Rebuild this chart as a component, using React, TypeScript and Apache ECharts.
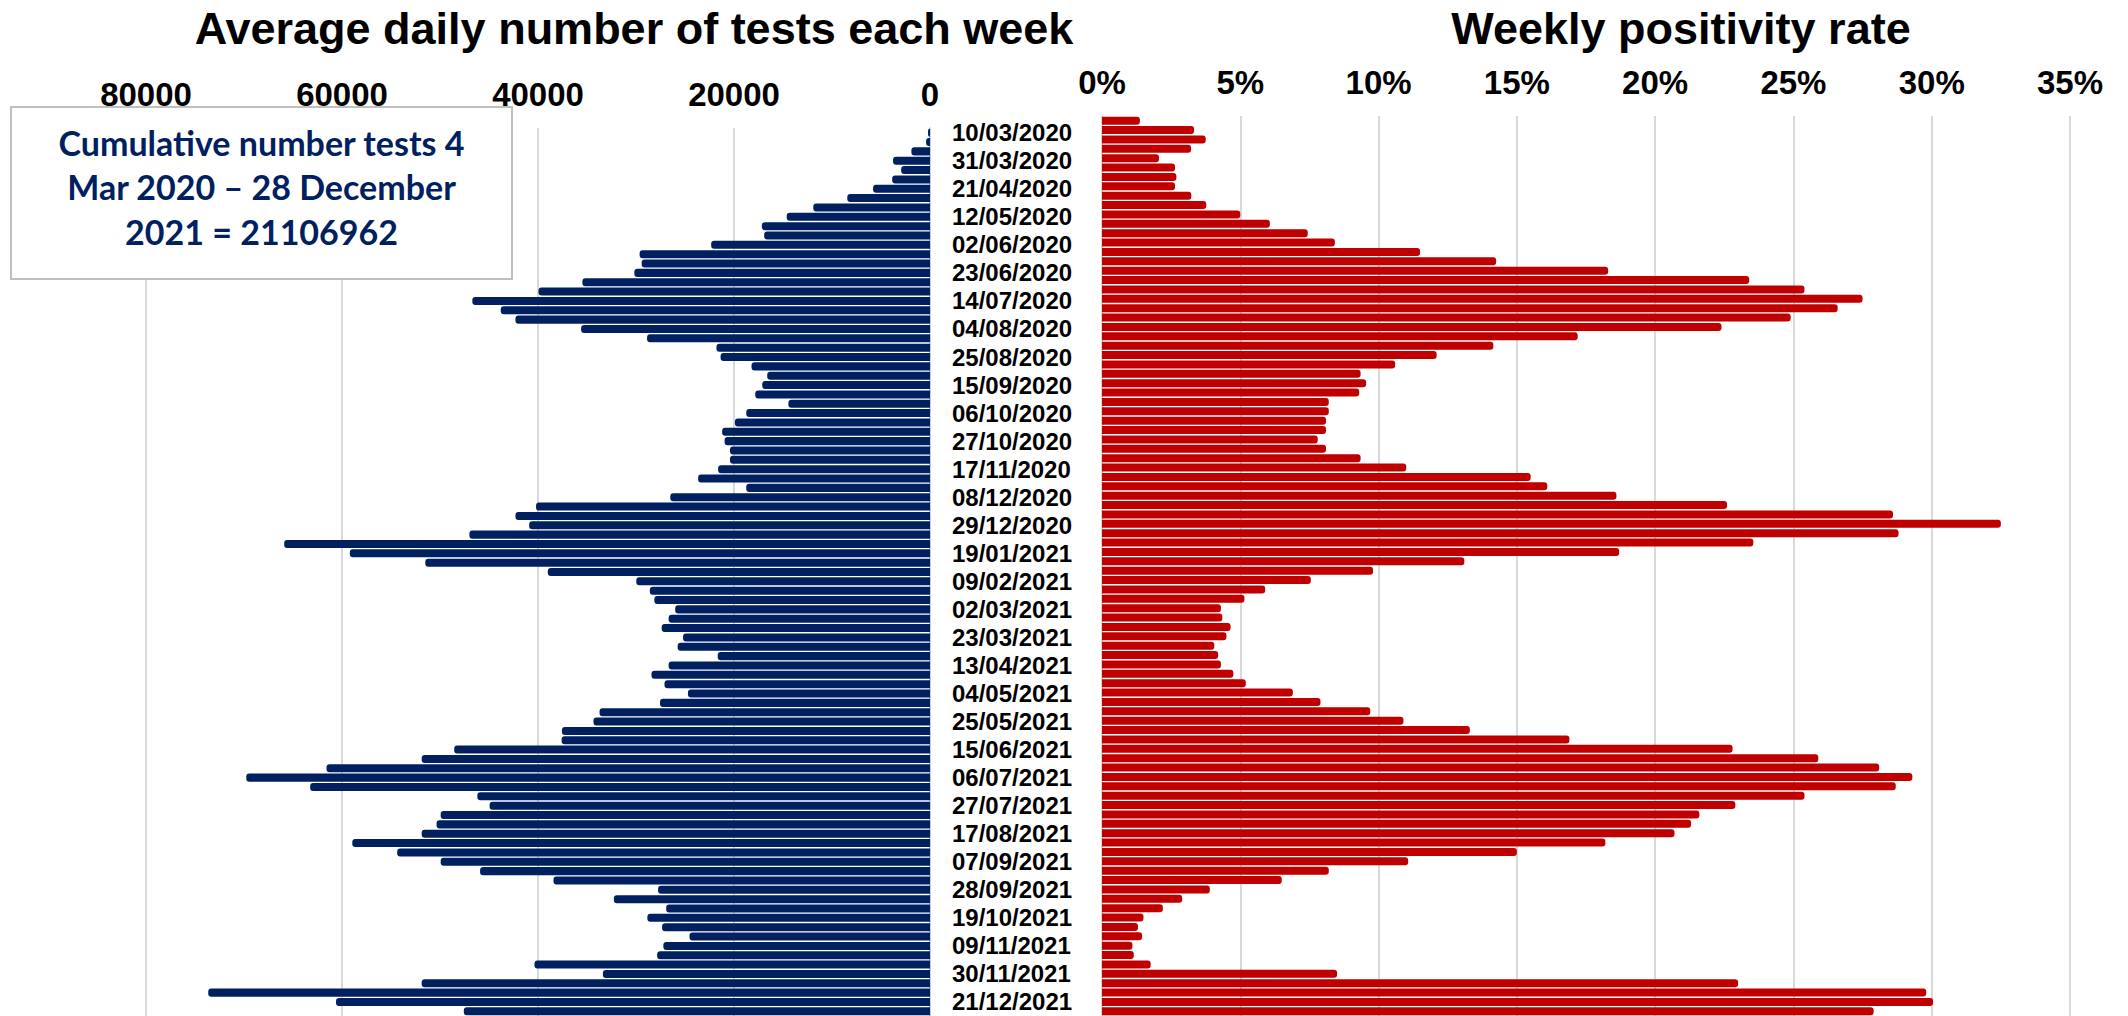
import React, { useEffect, useRef } from "react";
import * as echarts from "echarts";

// Weekly categories (week starting dates)
const weeks = [
  "03/03/2020", "10/03/2020", "17/03/2020", "24/03/2020", "31/03/2020", "07/04/2020", "14/04/2020", "21/04/2020",
  "28/04/2020", "05/05/2020", "12/05/2020", "19/05/2020", "26/05/2020", "02/06/2020", "09/06/2020", "16/06/2020",
  "23/06/2020", "30/06/2020", "07/07/2020", "14/07/2020", "21/07/2020", "28/07/2020", "04/08/2020", "11/08/2020",
  "18/08/2020", "25/08/2020", "01/09/2020", "08/09/2020", "15/09/2020", "22/09/2020", "29/09/2020", "06/10/2020",
  "13/10/2020", "20/10/2020", "27/10/2020", "03/11/2020", "10/11/2020", "17/11/2020", "24/11/2020", "01/12/2020",
  "08/12/2020", "15/12/2020", "22/12/2020", "29/12/2020",
  "05/01/2021", "12/01/2021", "19/01/2021", "26/01/2021", "02/02/2021", "09/02/2021", "16/02/2021", "23/02/2021",
  "02/03/2021", "09/03/2021", "16/03/2021", "23/03/2021", "30/03/2021", "06/04/2021", "13/04/2021", "20/04/2021",
  "27/04/2021", "04/05/2021", "11/05/2021", "18/05/2021", "25/05/2021", "01/06/2021", "08/06/2021", "15/06/2021",
  "22/06/2021", "29/06/2021", "06/07/2021", "13/07/2021", "20/07/2021", "27/07/2021", "03/08/2021", "10/08/2021",
  "17/08/2021", "24/08/2021", "31/08/2021", "07/09/2021", "14/09/2021", "21/09/2021", "28/09/2021", "05/10/2021",
  "12/10/2021", "19/10/2021", "26/10/2021", "02/11/2021", "09/11/2021", "16/11/2021", "23/11/2021", "30/11/2021",
  "07/12/2021", "14/12/2021", "21/12/2021", "28/12/2021",
];

// Tests chart starts one week later (10/03/2020)
const testWeeks = weeks.slice(1);

// Average daily number of tests each week (from 10/03/2020)
const testsPerDay = [
  200, 400, 1900, 3770, 2940, 3860, 5810, 8440, 11910, 14620,
  17160, 16920, 22330, 29630, 29420, 30170, 35470, 39950, 46700, 43800,
  42300, 35600, 28870, 21790, 21370, 18210, 16610, 17120, 17830, 14450,
  18750, 19910, 21210, 20960, 20410, 20410, 21620, 23660, 18750, 26500,
  40200, 42300, 40900, 47000, 65900, 59200, 51500, 39000, 29970, 28590,
  28130, 26000, 26670, 27380, 25200, 25750, 21660, 26670, 28420, 27090,
  24700, 27550, 33720, 34340, 37560, 37590, 48550, 51870, 61580, 69770,
  63250, 46190, 44940, 49930, 50350, 51870, 58950, 54370, 49930, 45910,
  38420, 27750, 32260, 26920, 28840, 27340, 24540, 27210, 27840, 40360,
  33380, 51870, 73650, 60610, 47570,
];

// Weekly positivity rate, % (from 03/03/2020)
const positivityPct = [
  1.37, 3.33, 3.75, 3.22, 2.06, 2.64, 2.69, 2.64, 3.23, 3.77,
  5.0, 6.07, 7.44, 8.42, 11.5, 14.25, 18.3, 23.4, 25.4, 27.5,
  26.6, 24.9, 22.4, 17.2, 14.15, 12.1, 10.6, 9.35, 9.55, 9.3,
  8.2, 8.2, 8.1, 8.1, 7.8, 8.1, 9.35, 11.0, 15.5, 16.1,
  18.6, 22.6, 28.6, 32.5, 28.8, 23.55, 18.7, 13.1, 9.8, 7.55,
  5.9, 5.15, 4.3, 4.35, 4.65, 4.5, 4.06, 4.2, 4.3, 4.75,
  5.2, 6.9, 7.9, 9.7, 10.9, 13.3, 16.9, 22.8, 25.9, 28.1,
  29.3, 28.7, 25.4, 22.9, 21.6, 21.3, 20.7, 18.2, 15.0, 11.07,
  8.2, 6.5, 3.9, 2.9, 2.2, 1.5, 1.3, 1.45, 1.1, 1.15,
  1.76, 8.5, 23.0, 29.8, 30.05, 27.9,
];

// Axis ticks
const testTickMax = 80000;
const testTickStep = 20000;
const pctTickMax = 35;
const pctTickStep = 5;

const titleLeft = "Average daily number of tests each week";
const titleRight = "Weekly positivity rate";
const noteLines = ["Cumulative number tests 4", "Mar 2020 \u2013 28 December", "2021 = 21106962"];

const BLUE = "#002060";
const RED = "#C00000";
const GRID = "#d9d9d9";
const FONT = '"Liberation Sans", Arial, sans-serif';

export default function App() {
  const ref = useRef<HTMLDivElement>(null);

  useEffect(() => {
    document.body.style.margin = "0";
    const chart = echarts.init(ref.current as HTMLDivElement, null, { renderer: "svg" });
    const axisLabelStyle = {
      fontSize: 33,
      fontWeight: "bold" as const,
      color: "#000",
      fontFamily: FONT,
      margin: 17,
    };
    chart.setOption({
      animation: false,
      backgroundColor: "#fff",
      grid: [
        { left: 146, top: 128, width: 784, height: testWeeks.length * 9.355 },
        { left: 1102, top: 116, width: 968, height: weeks.length * 9.426 },
      ],
      xAxis: [
        {
          gridIndex: 0,
          type: "value",
          inverse: true,
          position: "top",
          min: 0,
          max: testTickMax,
          interval: testTickStep,
          axisLine: { show: false },
          axisTick: { show: false },
          axisLabel: { ...axisLabelStyle, formatter: (v: number) => String(v) },
          splitLine: { show: true, lineStyle: { color: GRID, width: 2 } },
        },
        {
          gridIndex: 1,
          type: "value",
          position: "top",
          min: 0,
          max: pctTickMax,
          interval: pctTickStep,
          axisLine: { show: false },
          axisTick: { show: false },
          axisLabel: { ...axisLabelStyle, formatter: "{value}%" },
          splitLine: { show: true, lineStyle: { color: GRID, width: 2 } },
        },
      ],
      yAxis: [
        {
          gridIndex: 0,
          type: "category",
          inverse: true,
          position: "right",
          data: testWeeks,
          axisTick: { show: false },
          axisLine: { show: true, lineStyle: { color: "#b4c7e7", type: "dashed", width: 1.5 } },
          axisLabel: {
            interval: 2,
            margin: 22,
            fontSize: 24,
            fontWeight: "bold",
            color: "#000",
            fontFamily: FONT,
            align: "left",
          },
        },
        {
          gridIndex: 1,
          type: "category",
          inverse: true,
          data: weeks,
          axisTick: { show: false },
          axisLabel: { show: false },
          axisLine: { show: true, lineStyle: { color: GRID, width: 1 } },
        },
      ],
      series: [
        {
          type: "bar",
          xAxisIndex: 0,
          yAxisIndex: 0,
          data: testsPerDay,
          barCategoryGap: "14%",
          itemStyle: { color: BLUE, borderRadius: [3, 0, 0, 3] },
        },
        {
          type: "bar",
          xAxisIndex: 1,
          yAxisIndex: 1,
          data: positivityPct,
          barCategoryGap: "14%",
          itemStyle: { color: RED, borderRadius: [0, 3, 3, 0] },
        },
      ],
      graphic: [
        {
          type: "text",
          x: 634,
          y: 28,
          z: 100,
          style: {
            text: titleLeft,
            font: `bold 45px ${FONT}`,
            fill: "#000",
            align: "center",
            textAlign: "center",
            verticalAlign: "middle",
            textVerticalAlign: "middle",
          },
        },
        {
          type: "text",
          x: 1681,
          y: 28,
          z: 100,
          style: {
            text: titleRight,
            font: `bold 45px ${FONT}`,
            fill: "#000",
            align: "center",
            textAlign: "center",
            verticalAlign: "middle",
            textVerticalAlign: "middle",
          },
        },
        {
          type: "rect",
          z: 100,
          shape: { x: 11, y: 107, width: 501, height: 172 },
          style: { fill: "#fff", stroke: "#bfbfbf", lineWidth: 2 },
        },
        ...noteLines.map((t, i) => ({
          type: "text",
          x: 261.5,
          y: 142 + i * 44.5,
          z: 101,
          style: {
            text: t,
            font: 'bold 34px Lato, "Noto Sans", sans-serif',
            fill: BLUE,
            align: "center",
            textAlign: "center",
            verticalAlign: "middle",
            textVerticalAlign: "middle",
          },
        })),
      ],
    });
    return () => chart.dispose();
  }, []);

  return (
    <div
      ref={ref}
      style={{ position: "absolute", left: 0, top: 0, width: 2128, height: 1016, background: "#fff", overflow: "hidden" }}
    />
  );
}
